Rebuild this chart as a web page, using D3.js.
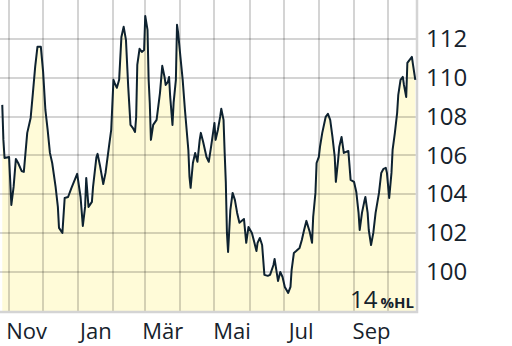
<!DOCTYPE html>
<html>
<head>
<meta charset="utf-8">
<script src="https://cdn.jsdelivr.net/npm/d3@7"></script>
<style>
  body { margin: 0; background: #fff; }
  text { font-family: "Open Sans", "Noto Sans", sans-serif; fill: #16222c; }
</style>
</head>
<body>
<div id="chart"></div>
<script>
// price series
var dates = [
  "2022-10-26","2022-10-27","2022-10-28","2022-11-01","2022-11-03","2022-11-05","2022-11-07","2022-11-09",
  "2022-11-12","2022-11-14","2022-11-17","2022-11-19","2022-11-20","2022-11-22","2022-11-24","2022-11-26",
  "2022-11-29","2022-12-01","2022-12-03","2022-12-05","2022-12-07","2022-12-09","2022-12-12","2022-12-14",
  "2022-12-15","2022-12-18","2022-12-20","2022-12-23","2022-12-26","2022-12-31","2023-01-03","2023-01-05",
  "2023-01-07","2023-01-08","2023-01-10","2023-01-13","2023-01-14","2023-01-17","2023-01-18","2023-01-20",
  "2023-01-23","2023-01-25","2023-01-28","2023-01-30","2023-02-01","2023-02-02","2023-02-04","2023-02-06",
  "2023-02-08","2023-02-10","2023-02-12","2023-02-14","2023-02-16","2023-02-18","2023-02-20","2023-02-21",
  "2023-02-22","2023-02-24","2023-02-26","2023-02-28","2023-03-01","2023-03-03","2023-03-04","2023-03-05",
  "2023-03-06","2023-03-08","2023-03-11","2023-03-14","2023-03-16","2023-03-18","2023-03-19","2023-03-21",
  "2023-03-22","2023-03-23","2023-03-25","2023-03-26","2023-03-28","2023-03-29","2023-03-30","2023-04-01",
  "2023-04-03","2023-04-05","2023-04-08","2023-04-09","2023-04-10","2023-04-12","2023-04-14","2023-04-16",
  "2023-04-18","2023-04-19","2023-04-21","2023-04-24","2023-04-26","2023-04-28","2023-05-01","2023-05-02",
  "2023-05-04","2023-05-06","2023-05-07","2023-05-09","2023-05-10","2023-05-11","2023-05-12","2023-05-13",
  "2023-05-15","2023-05-17","2023-05-19","2023-05-21","2023-05-23","2023-05-27","2023-05-29","2023-05-31",
  "2023-06-03","2023-06-05","2023-06-07","2023-06-08","2023-06-10","2023-06-12","2023-06-14","2023-06-17",
  "2023-06-19","2023-06-22","2023-06-23","2023-06-26","2023-06-28","2023-06-30","2023-07-02","2023-07-05",
  "2023-07-07","2023-07-08","2023-07-10","2023-07-12","2023-07-15","2023-07-17","2023-07-19","2023-07-21",
  "2023-07-24","2023-07-26","2023-07-27","2023-07-29","2023-07-30","2023-08-01","2023-08-02","2023-08-04",
  "2023-08-07","2023-08-09","2023-08-11","2023-08-13","2023-08-15","2023-08-16","2023-08-18","2023-08-19",
  "2023-08-21","2023-08-23","2023-08-25","2023-08-27","2023-08-29","2023-09-01","2023-09-03","2023-09-05",
  "2023-09-06","2023-09-08","2023-09-10","2023-09-11","2023-09-13","2023-09-14","2023-09-16","2023-09-18",
  "2023-09-20","2023-09-23","2023-09-25","2023-09-27","2023-09-29","2023-09-30","2023-10-02","2023-10-04",
  "2023-10-05","2023-10-07","2023-10-09","2023-10-10","2023-10-12","2023-10-14","2023-10-15","2023-10-17",
  "2023-10-18","2023-10-20","2023-10-22","2023-10-23","2023-10-25"
];
var values = [
  108.60,106.80,105.87,105.92,103.45,104.38,105.82,105.61,
  105.20,105.15,107.16,107.67,107.93,109.22,110.56,111.59,
  111.59,110.30,108.34,107.31,106.13,105.61,104.38,103.35,
  102.27,102.01,103.81,103.86,104.33,105.05,103.86,102.37,
  103.35,104.84,103.35,103.61,104.38,105.92,106.08,105.51,
  104.53,105.10,106.44,107.31,109.89,109.73,109.48,109.89,
  112.10,112.62,111.95,109.53,107.57,107.42,107.21,107.98,
  110.66,111.49,111.33,111.43,113.18,112.46,109.89,108.70,
  106.80,107.57,107.83,109.22,110.61,110.04,109.63,109.79,
  110.04,109.01,107.57,108.70,109.89,112.72,112.31,111.07,
  109.89,108.34,106.28,104.89,104.33,105.61,106.13,105.67,
  106.80,107.16,106.70,105.92,105.67,106.44,107.67,106.80,
  107.31,107.98,108.40,107.83,106.13,104.64,102.01,101.03,
  103.19,104.07,103.71,103.04,102.53,102.73,101.50,102.32,
  102.01,101.55,101.08,101.50,101.75,101.39,99.85,99.80,
  99.85,100.36,100.67,99.54,100.00,99.74,99.23,98.92,
  99.23,100.10,100.98,101.08,101.24,101.65,102.16,102.63,
  102.06,101.50,102.83,104.07,105.61,105.92,106.44,107.16,
  107.98,108.14,107.83,106.95,105.92,104.64,105.77,106.44,
  106.95,106.13,106.18,106.23,104.74,104.64,104.12,103.04,
  102.16,103.04,103.61,103.86,103.04,102.16,101.39,102.01,
  103.04,104.07,105.10,105.31,105.36,105.10,103.81,105.10,
  106.28,107.16,108.19,109.12,109.89,110.04,109.63,109.01,
  110.76,110.92,111.07,110.66,109.89
];

// axis labels
var yTicks = [100, 102, 104, 106, 108, 110, 112];
var monthLabels = ["Nov", "Jan", "Mär", "Mai", "Jul", "Sep"];
var monthMids = ["2022-11-16", "2023-01-16", "2023-03-16", "2023-05-16", "2023-07-16", "2023-09-16"];
var hlValue = "14";
var hlUnit = "%HL";

(function() {
  var width = 512, height = 346,
      plotW = 417, plotH = 312;

  var parseTime = d3.timeParse("%Y-%m-%d");

  var datapoints = dates.map(function(d, i) {
    return { datetime: parseTime(d), close: values[i] };
  });

  var svg = d3.select("#chart")
    .append("svg")
    .attr("width", width)
    .attr("height", height);

  svg.append("rect")
    .attr("width", width)
    .attr("height", height)
    .attr("fill", "#fff");

  var xPositionScale = d3.scaleTime()
    .domain([new Date(2022, 9, 24), new Date(2023, 9, 26, 12)])
    .range([0, plotW]);

  var yPositionScale = d3.scaleLinear()
    .domain([97.94, 114.0])
    .range([plotH, 0]);

  // filled area under the price
  var area = d3.area()
    .x(function(d) { return xPositionScale(d.datetime); })
    .y0(plotH)
    .y1(function(d) { return yPositionScale(d.close); });

  svg.append("path")
    .datum(datapoints)
    .attr("d", area)
    .attr("fill", "#fffbd8");

  // grid: month starts and value ticks
  var monthStarts = d3.timeMonth.range(new Date(2022, 10, 1), new Date(2023, 9, 2));

  svg.append("g")
    .selectAll("line")
    .data(monthStarts)
    .enter().append("line")
    .attr("x1", function(d) { return Math.round(xPositionScale(d)); })
    .attr("x2", function(d) { return Math.round(xPositionScale(d)); })
    .attr("y1", 0)
    .attr("y2", plotH)
    .attr("stroke", "rgba(0,0,0,0.17)")
    .attr("stroke-width", 2);

  svg.append("g")
    .selectAll("line")
    .data(yTicks)
    .enter().append("line")
    .attr("x1", 0)
    .attr("x2", plotW)
    .attr("y1", function(d) { return Math.round(yPositionScale(d)); })
    .attr("y2", function(d) { return Math.round(yPositionScale(d)); })
    .attr("stroke", "rgba(0,0,0,0.17)")
    .attr("stroke-width", 2);

  // frame right + bottom
  svg.append("path")
    .attr("d", "M" + plotW + ",0V" + plotH + "H0")
    .attr("fill", "none")
    .attr("stroke", "#d4d4d4")
    .attr("stroke-width", 2.5);

  var line = d3.line()
    .x(function(d) { return xPositionScale(d.datetime); })
    .y(function(d) { return yPositionScale(d.close); });

  svg.append("path")
    .datum(datapoints)
    .attr("d", line)
    .attr("fill", "none")
    .attr("stroke", "#0e2230")
    .attr("stroke-width", 2)
    .attr("stroke-linejoin", "round");

  // axes
  var yAxis = d3.axisRight(yPositionScale)
    .tickValues(yTicks)
    .tickSize(0)
    .tickPadding(9);

  svg.append("g")
    .attr("class", "axis y-axis")
    .attr("transform", "translate(" + plotW + ",0)")
    .call(yAxis)
    .call(function(g) { g.select(".domain").remove(); })
    .selectAll("text")
    .attr("font-size", 24)
    .attr("font-family", "Open Sans")
    .attr("fill", "#16222c");

  var xAxis = d3.axisBottom(xPositionScale)
    .tickValues(monthMids.map(parseTime))
    .tickFormat(function(d, i) { return monthLabels[i]; })
    .tickSize(0)
    .tickPadding(11);

  svg.append("g")
    .attr("class", "axis x-axis")
    .attr("transform", "translate(0," + plotH + ")")
    .call(xAxis)
    .call(function(g) { g.select(".domain").remove(); })
    .selectAll("text")
    .attr("font-size", 22)
    .attr("font-family", "Open Sans")
    .attr("fill", "#16222c");

  // volatility badge
  var badge = svg.append("text")
    .attr("x", plotW - 3)
    .attr("y", 308)
    .attr("text-anchor", "end");
  badge.append("tspan")
    .attr("font-size", 24)
    .text(hlValue);
  badge.append("tspan")
    .attr("font-size", 15)
    .attr("font-weight", "bold")
    .attr("dx", 3)
    .text(hlUnit);
})();
</script>
</body>
</html>
